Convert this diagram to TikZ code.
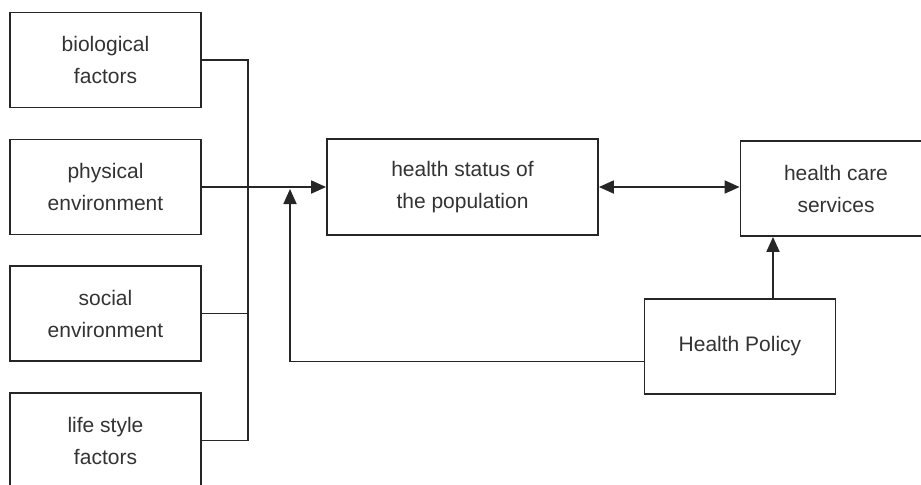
\documentclass[tikz,border=0pt]{standalone}
\usepackage{fontspec}
\setmainfont{Liberation Sans}
\usetikzlibrary{arrows.meta, positioning, calc}

\begin{document}
\begin{tikzpicture}[
  x=0.5pt, y=-0.5pt,
  font=\fontsize{10.5}{16}\selectfont,
  >={Triangle[length=7.5pt, width=6.5pt]},
  line width=0.9pt,
  factor/.style={draw=black!85, line width=0.9pt, minimum width=95.5pt, minimum height=47.5pt, align=center, inner sep=0pt, text=black!80},
  link/.style={draw=black!85, line width=0.9pt},
  flow/.style={link, ->}
]
\useasboundingbox (0,0) rectangle (921,484);

% Determinants on the left
\node[factor] (bio)    at (105.5, 60)  {biological\\factors};
\node[factor] (phys)   at (105.5, 187) {physical\\environment};
\node[factor] (social) at (105.5, 313.5) {social\\environment};
\node[factor] (life)   at (105.5, 440.5) {life style\\factors};

% Central and right boxes
\node[factor, minimum width=135.5pt, minimum height=48pt] (status) at (462.5, 187) {health status of\\the population};
\node[factor] (care)   at (836, 188.5) {health care\\services};
\node[factor] (policy) at (740, 346.5) {Health Policy};

% Bus joining the determinants
\coordinate (bustop) at (248, 60);
\coordinate (busbot) at (248, 440.5);
\draw[link] (bio.east) -- (bustop) -- (busbot) -- (life.east);
\draw[link] (social.east) -- (social.east -| bustop);

% Arrows into the health status
\draw[flow] (phys.east) -- (status.west);
\coordinate (merge) at (290, 189);
\draw[flow] ([yshift=-7.5pt]policy.west) -| (merge);

% Health status and care services
\draw[flow, <->] (status.east) -- (status.east -| care.west);
\draw[flow] ([xshift=16.5pt]policy.north) -- ([xshift=16.5pt]policy.north |- care.south);

\end{tikzpicture}
\end{document}
